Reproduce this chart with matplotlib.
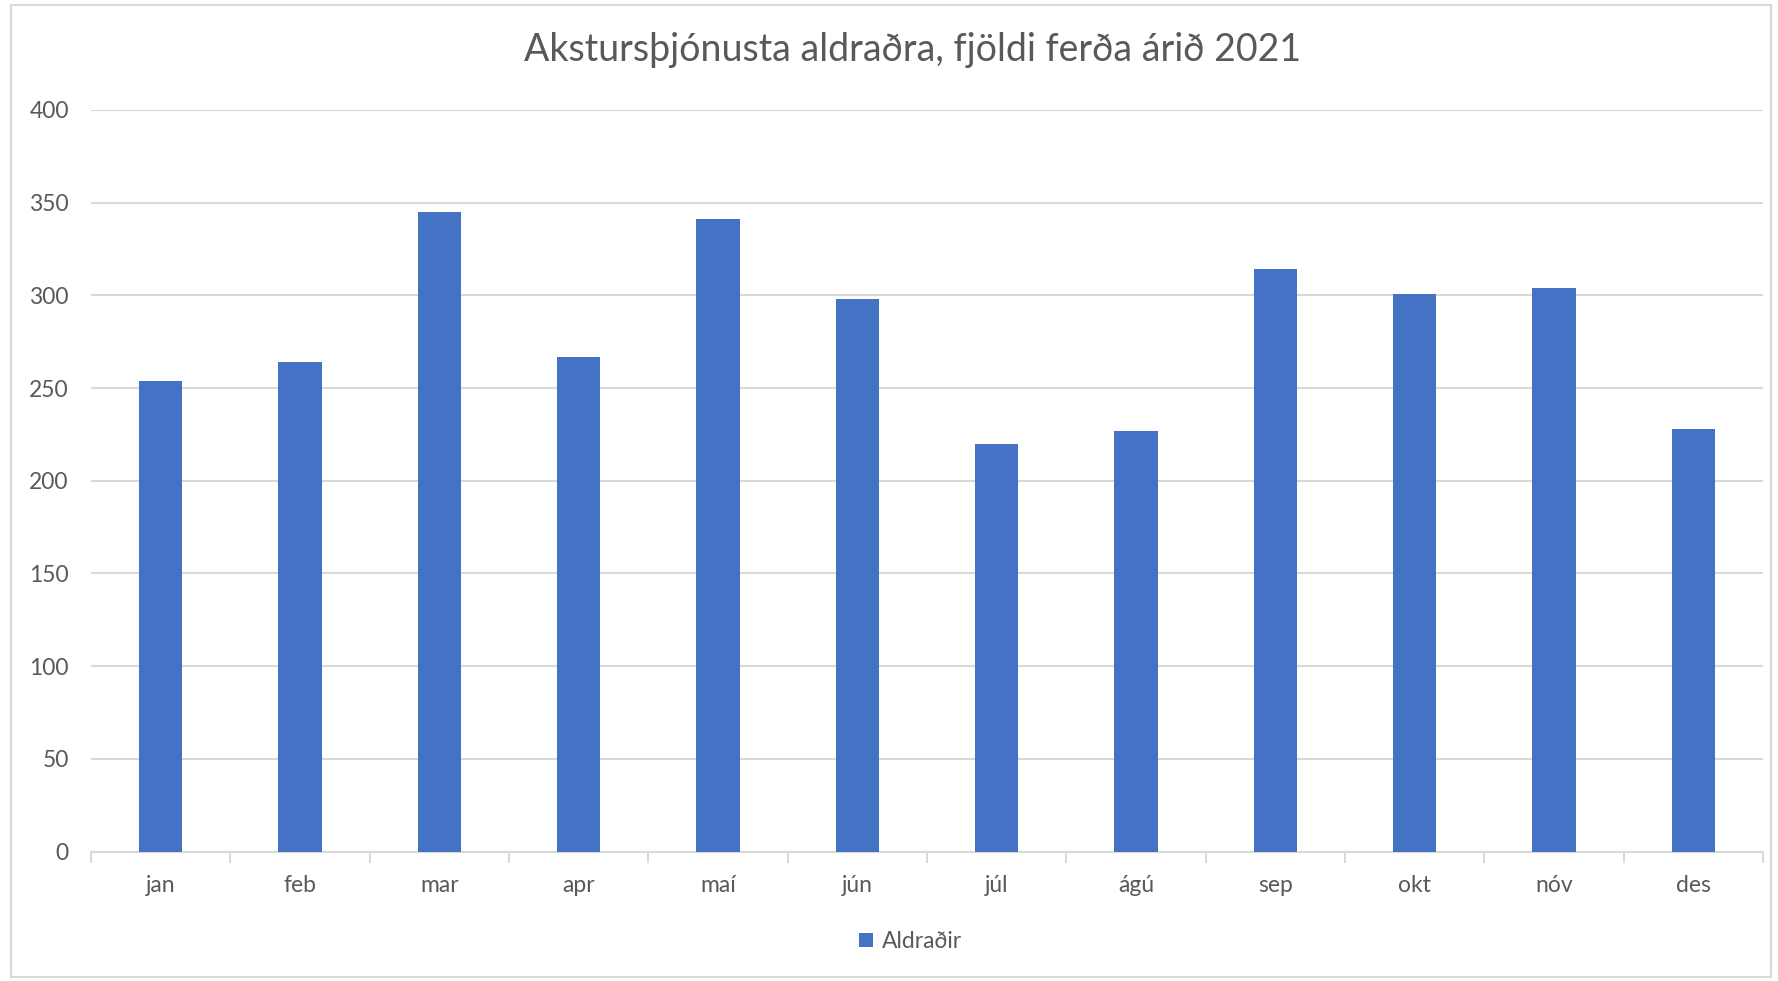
import matplotlib.pyplot as plt
import numpy as np

# ferdir aldradra 2021
months = ["jan", "feb", "mar", "apr", "maí", "jún", "júl", "ágú", "sep", "okt", "nóv", "des"]
trips = [254, 264, 345, 267, 341, 298, 220, 227, 314, 301, 304, 228]
series_name = "Aldraðir"
title = "Akstursþjónusta aldraðra, fjöldi ferða árið 2021"
yticks = [0, 50, 100, 150, 200, 250, 300, 350, 400]

plt.rcParams['font.family'] = ['Lato', 'DejaVu Sans']
txt = "#595959"
grid = "#d9d9d9"

fig = plt.figure(figsize=(17.78, 9.81), dpi=100)
ax = fig.add_axes([0.0512, 0.1319, 0.9404, 0.756])

x = np.arange(len(months))
ax.bar(x, trips, width=0.31, color="#4472C4", label=series_name, zorder=3)

ax.set_xlim(-0.5, len(months) - 0.5)
ax.set_ylim(0, 400)
ax.set_yticks(yticks)
ax.set_yticklabels([str(v) for v in yticks], fontsize=16.5, color=txt)
ax.yaxis.grid(True, color=grid, lw=1.5, zorder=0)
ax.tick_params(axis='y', length=0, pad=16)

# month labels centred, ticks between categories
ax.set_xticks(x)
ax.set_xticklabels(months, fontsize=16.5, color=txt)
ax.tick_params(axis='x', which='major', length=0, pad=17)
ax.set_xticks(np.arange(-0.5, len(months)), minor=True)
ax.tick_params(axis='x', which='minor', length=8, color=grid, width=1.5)

for s in ["top", "right", "left"]:
    ax.spines[s].set_visible(False)
ax.spines["bottom"].set_color(grid)
ax.spines["bottom"].set_linewidth(1.5)

fig.text(0.513, 0.949, title, ha='center', va='center', fontsize=27, color=txt)

fig.legend(loc='center', bbox_to_anchor=(0.512, 0.04), frameon=False, fontsize=16.5,
           labelcolor=txt, handlelength=0.6, handleheight=0.6, handletextpad=0.4)

# chart area border
fig.add_artist(plt.Rectangle((0.006, 0.004), 0.99, 0.991, transform=fig.transFigure,
                             fill=False, edgecolor=grid, lw=1.5))

fig.savefig("out.png", dpi=100)
